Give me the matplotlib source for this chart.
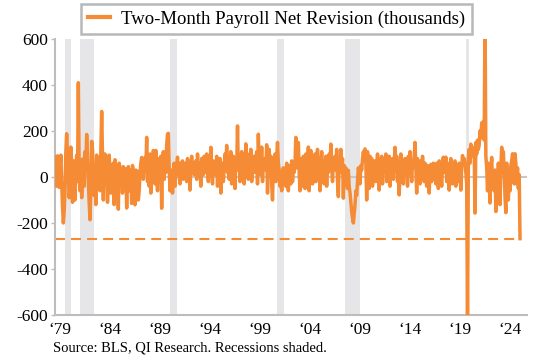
import numpy as np
import matplotlib
matplotlib.use('Agg')
import matplotlib.pyplot as plt

# two-month net payroll revision, thousands, monthly from Jan 1979
rev_1979 = [55, 88, -40, 92, 70, -45, 35, 95, -20, -130, -200, -150]
rev_1980 = [-60, 110, 188, 95, 30, -90, -40, 130, 60, -110, 70, -50]
rev_1981 = [-100, 40, 95, -20, 410, 20, -60, 75, -90, 30, 80, -40]
rev_1982 = [110, 60, 185, 90, -20, -110, -186, -60, 155, 120, 20, -80]
rev_1983 = [10, -120, 95, 60, -40, 45, -60, 120, 285, 90, -100, 60]
rev_1984 = [100, -30, 90, -110, 55, 95, 20, -70, 40, -30, 60, -120]
rev_1985 = [75, 45, 25, -40, -140, 60, 40, -20, 30, -70, 45, 20]
rev_1986 = [-50, 35, -135, 20, 45, -60, 10, 30, -115, 50, 20, -30]
rev_1987 = [-121, 30, -40, 25, -100, -60, 15, 60, 85, 20, -10, 40]
rev_1988 = [85, 30, 172, -20, 60, -40, 100, -70, 50, 20, 115, 60]
rev_1989 = [-30, 115, 40, -60, 80, 30, -20, 90, -136, 60, 110, -10]
rev_1990 = [60, 20, 140, 186, 190, 40, -60, -20, 30, -70, 10, 60]
rev_1991 = [-40, 20, 50, 86, 30, 10, -30, 60, 20, 70, -10, 40]
rev_1992 = [30, 60, -20, 80, 10, 50, -57, 40, 90, 20, 60, 10]
rev_1993 = [40, 70, -10, 100, 30, 60, 20, -40, 80, 50, 10, 90]
rev_1994 = [20, 60, 100, 30, -20, 90, 50, 129, 20, -30, 70, 40]
rev_1995 = [60, 10, 90, -40, 50, 20, 80, -70, 30, 60, -20, 40]
rev_1996 = [100, 30, 137, 20, 70, -10, 60, 110, -30, 40, 90, 20]
rev_1997 = [-50, 80, 40, 222, 30, 90, -20, 60, 110, 10, 70, -30]
rev_1998 = [50, 144, 20, 100, -10, 80, 40, 120, -20, 60, 30, 90]
rev_1999 = [20, 70, 110, -30, 186, 50, 90, 10, 130, -20, 70, 40]
rev_2000 = [80, 30, 140, -70, 60, 120, 20, 90, -30, -100, 40, 60]
rev_2001 = [100, -20, 80, 150, 60, 30, -40, 20, -60, 10, 40, -30]
rev_2002 = [30, -40, 60, 20, -60, 50, 10, -30, 70, -20, 40, 20]
rev_2003 = [60, 172, 40, 100, 150, 20, -60, 80, 30, -40, 90, 60]
rev_2004 = [-50, 100, 60, 20, 130, -60, 80, 115, 30, -30, 90, 40]
rev_2005 = [100, -20, 60, 120, 30, 80, -60, 50, 110, 20, 70, -30]
rev_2006 = [40, 90, -40, 60, 20, 100, 30, 143, 50, -20, 80, 40]
rev_2007 = [90, 30, 120, -20, -85, 60, 30, 120, 20, 80, -92, 50]
rev_2008 = [-30, 40, 10, -50, 29, -40, -70, -110, -150, -180, -200, -160]
rev_2009 = [-120, -60, -80, -20, 40, 20, -30, 50, 30, 80, 110, 90]
rev_2010 = [122, 60, -100, 110, 30, -50, 90, 20, 80, -40, 60, 30]
rev_2011 = [70, -20, 50, 100, 30, -57, 80, 20, 90, -30, 60, 40]
rev_2012 = [50, 100, -20, 60, 30, 90, -40, 70, 20, 80, -10, 60]
rev_2013 = [129, 40, 90, -20, 60, -78, 30, 100, 20, 70, -30, 50]
rev_2014 = [80, 20, 60, -40, 90, 30, 110, 50, -20, 70, 40, 90]
rev_2015 = [150, 40, -70, 80, 20, 60, -30, 70, 10, 90, 40, -20]
rev_2016 = [60, 20, -40, 50, 10, -70, 40, 55, -20, 30, 60, 10]
rev_2017 = [40, -30, 60, 20, -50, 70, 30, 10, -40, 60, 86, 20]
rev_2018 = [50, 86, -20, 60, 30, -57, 40, 80, 10, -30, 60, 20]
rev_2019 = [70, -40, 30, 50, -20, 60, 20, -57, 40, 93, 60, 80]
rev_2020 = [60, 20, -30, -650, 80, 120, 60, 143, 100, 130, 90, 115]
rev_2021 = [-157, 150, 100, 160, 120, 140, 200, 170, 235, 180, 240, 160]
rev_2022 = [709, 90, 40, -60, 60, -20, -113, 30, 85, -30, 20, -60]
rev_2023 = [30, -150, 20, -100, 60, -80, -120, 40, 129, 80, 110, 20]
rev_2024 = [-90, -155, 60, -40, -100, 20, -60, 50, 70, 101, 80, -30]
rev_2025 = [101, 60, -30, 40, -50, 10, -268]

years = list(range(1979, 2026))
revisions = [globals()['rev_%d' % y] for y in years]

# NBER recessions (decimal years)
recessions = [(1980.0, 1980.55), (1981.5, 1982.9), (1990.5, 1991.2),
              (2001.2, 2001.9), (2007.95, 2009.5), (2020.1, 2020.35)]

tick_years = [1979, 1984, 1989, 1994, 1999, 2004, 2009, 2014, 2019, 2024]

x = np.concatenate([y + np.arange(len(r)) / 12.0 for y, r in zip(years, revisions)])
vals = np.concatenate([np.array(r, dtype=float) for r in revisions])

orange = '#F58B35'
grey = '#BDBDBD'
serif = ['Liberation Serif', 'DejaVu Serif']

plt.rcParams['font.family'] = serif

fig = plt.figure(figsize=(5.59, 3.59), dpi=100, facecolor='white')
ax = fig.add_axes([0.0984, 0.1226, 0.8444, 0.7688])

for a, b in recessions:
    ax.axvspan(a, b, color='#E6E6E9', lw=0, zorder=0)

ax.axhline(0, color='#C8C8C8', lw=1.5, zorder=1)
ax.plot(x, vals, color=orange, lw=2.5, zorder=3, solid_joinstyle='round',
        label='Two-Month Payroll Net Revision (thousands)')
ax.hlines(vals[-1], 1979.0, x[-1], colors=orange, lw=1.5,
          linestyles=(0, (4.8, 2.9)), zorder=2)

ax.set_xlim(1979.0, 2026.2)
ax.set_ylim(-600, 600)
ax.set_yticks([-600, -400, -200, 0, 200, 400, 600])
ax.set_yticklabels(['-600', '-400', '-200', '0', '200', '400', '600'])
ax.set_xticks([y + 0.5 for y in tick_years])
ax.set_xticklabels(['\u2018%02d' % (y % 100) for y in tick_years])

for s in ['top', 'right']:
    ax.spines[s].set_visible(False)
for s in ['left', 'bottom']:
    ax.spines[s].set_color(grey)
    ax.spines[s].set_linewidth(1.5)
ax.tick_params(axis='y', length=3, width=1, color=grey, labelsize=12.5, pad=2)
ax.tick_params(axis='x', length=0, labelsize=12.5, pad=5)

leg = fig.legend(loc='center', bbox_to_anchor=(0.4946, 0.947), fontsize=13.5,
                 frameon=True, fancybox=False, handlelength=1.2,
                 handletextpad=0.6, borderpad=0.35)
leg.get_frame().set_edgecolor('#A6A6A6')
leg.get_frame().set_linewidth(1.8)
leg.legend_handles[0].set_linewidth(3)

fig.text(0.095, 0.02, 'Source: BLS, QI Research. Recessions shaded.',
         fontsize=10.5, ha='left', va='baseline')

fig.savefig('out.png', dpi=100, facecolor='white')
